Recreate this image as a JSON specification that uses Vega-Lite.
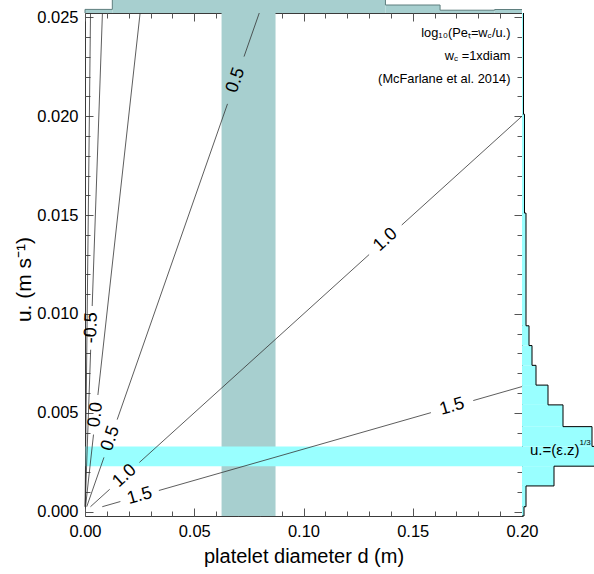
{
  "$schema": "https://vega.github.io/schema/vega-lite/v6.json",
  "width": 437,
  "height": 503,
  "autosize": {"type": "none"},
  "padding": {"left": 85, "top": 13, "right": 72, "bottom": 58},
  "config": {
    "font": "Liberation Sans",
    "view": {"stroke": "#3a3a3a", "strokeWidth": 1},
    "axis": {"grid": false, "domain": false, "tickColor": "#555", "tickWidth": 1, "labelColor": "#000", "titleColor": "#000", "labelFont": "Liberation Sans", "titleFont": "Liberation Sans", "titleFontWeight": "normal"}
  },
  "datasets": {
    "vband": [{"lo": 0.0625, "hi": 0.0872}],
    "hband": [{"lo": 0.0023, "hi": 0.0033}],
    "segs": [
      {"c": -1, "d1": 0.000025, "u1": 0.00025, "d2": 0.002522, "u2": 0.02522},
      {"c": -0.5, "d1": 0.000079, "u1": 0.00025, "d2": 0.00259, "u2": 0.00819},
      {"c": -0.5, "d1": 0.00329, "u1": 0.0104, "d2": 0.007975, "u2": 0.02522},
      {"c": 0, "d1": 0.00025, "u1": 0.00025, "d2": 0.0039, "u2": 0.0039},
      {"c": 0, "d1": 0.0059, "u1": 0.0059, "d2": 0.02522, "u2": 0.02522},
      {"c": 0.5, "d1": 0.000791, "u1": 0.00025, "d2": 0.00868, "u2": 0.002745},
      {"c": 0.5, "d1": 0.01472, "u1": 0.004655, "d2": 0.06522, "u2": 0.020624},
      {"c": 0.5, "d1": 0.07278, "u1": 0.023015, "d2": 0.07975, "u2": 0.02522},
      {"c": 1, "d1": 0.0025, "u1": 0.00025, "d2": 0.01131, "u2": 0.001131},
      {"c": 1, "d1": 0.02489, "u1": 0.002489, "d2": 0.13003, "u2": 0.013003},
      {"c": 1, "d1": 0.14497, "u1": 0.014497, "d2": 0.2, "u2": 0.02},
      {"c": 1.5, "d1": 0.0079, "u1": 0.00025, "d2": 0.01619, "u2": 0.000512},
      {"c": 1.5, "d1": 0.03381, "u1": 0.001069, "d2": 0.15831, "u2": 0.005006},
      {"c": 1.5, "d1": 0.17769, "u1": 0.005619, "d2": 0.2, "u2": 0.006325}
    ],
    "labs": [
      {"c": "-0.5", "d": 0.00294, "u": 0.0093},
      {"c": "0.0", "d": 0.0049, "u": 0.0049},
      {"c": "0.5", "d": 0.0117, "u": 0.0037},
      {"c": "0.5", "d": 0.069, "u": 0.02182},
      {"c": "1.0", "d": 0.0181, "u": 0.00181},
      {"c": "1.0", "d": 0.1375, "u": 0.01375},
      {"c": "1.5", "d": 0.025, "u": 0.00079},
      {"c": "1.5", "d": 0.168, "u": 0.00531}
    ],
    "notes": [
      {"k": "a1", "t": "log₁₀(Peₜ=w", "d": 0.1947, "u": 0.02421},
      {"k": "a2", "t": "c", "d": 0.1947, "u": 0.02421},
      {"k": "a3", "t": "/u.)", "d": 0.1947, "u": 0.02421},
      {"k": "b1", "t": "w", "d": 0.1947, "u": 0.02305},
      {"k": "b2", "t": "c", "d": 0.1947, "u": 0.02305},
      {"k": "b3", "t": " =1xdiam", "d": 0.1947, "u": 0.02305},
      {"k": "c1", "t": "(McFarlane et al. 2014)", "d": 0.1947, "u": 0.02188}
    ],
    "rh": [
      {"lo": -0.00022, "hi": 0.00025, "f": 2},
      {"lo": 0.00025, "hi": 0.0013, "f": 4},
      {"lo": 0.0013, "hi": 0.0023, "f": 32},
      {"lo": 0.0023, "hi": 0.0033, "f": 90},
      {"lo": 0.0033, "hi": 0.0043, "f": 70},
      {"lo": 0.0043, "hi": 0.0054, "f": 41},
      {"lo": 0.0054, "hi": 0.0064, "f": 26},
      {"lo": 0.0064, "hi": 0.0074, "f": 14},
      {"lo": 0.0074, "hi": 0.0084, "f": 10},
      {"lo": 0.0084, "hi": 0.0094, "f": 7},
      {"lo": 0.0094, "hi": 0.0151, "f": 4},
      {"lo": 0.0151, "hi": 0.0201, "f": 2.5},
      {"lo": 0.0201, "hi": 0.02522, "f": 1.5}
    ],
    "rho": [
      {"i": 0, "f": 0, "u": -0.00022},
      {"i": 1, "f": 2, "u": -0.00022},
      {"i": 2, "f": 2, "u": 0.00025},
      {"i": 3, "f": 4, "u": 0.00025},
      {"i": 4, "f": 4, "u": 0.0013},
      {"i": 5, "f": 32, "u": 0.0013},
      {"i": 6, "f": 32, "u": 0.0023},
      {"i": 7, "f": 90, "u": 0.0023},
      {"i": 8, "f": 90, "u": 0.0033},
      {"i": 9, "f": 70, "u": 0.0033},
      {"i": 10, "f": 70, "u": 0.0043},
      {"i": 11, "f": 41, "u": 0.0043},
      {"i": 12, "f": 41, "u": 0.0054},
      {"i": 13, "f": 26, "u": 0.0054},
      {"i": 14, "f": 26, "u": 0.0064},
      {"i": 15, "f": 14, "u": 0.0064},
      {"i": 16, "f": 14, "u": 0.0074},
      {"i": 17, "f": 10, "u": 0.0074},
      {"i": 18, "f": 10, "u": 0.0084},
      {"i": 19, "f": 7, "u": 0.0084},
      {"i": 20, "f": 7, "u": 0.0094},
      {"i": 21, "f": 4, "u": 0.0094},
      {"i": 22, "f": 4, "u": 0.0151},
      {"i": 23, "f": 2.5, "u": 0.0151},
      {"i": 24, "f": 2.5, "u": 0.0201},
      {"i": 25, "f": 1.5, "u": 0.0201},
      {"i": 26, "f": 1.5, "u": 0.02522}
    ],
    "rtxt": [
      {"k": "m", "t": "u.=(ε.z)", "f": 8, "u": 0.0031},
      {"k": "s", "t": "1/3", "f": 57.5, "u": 0.0031}
    ],
    "th": [
      {"lo": 0, "hi": 0.0125, "f": 3.6},
      {"lo": 0.0125, "hi": 0.1375, "f": 20},
      {"lo": 0.1375, "hi": 0.1625, "f": 8},
      {"lo": 0.1625, "hi": 0.1875, "f": 2.8},
      {"lo": 0.1875, "hi": 0.2, "f": 3.5}
    ],
    "tho": [
      {"i": 0, "d": 0, "f": 0},
      {"i": 1, "d": 0, "f": 3.6},
      {"i": 2, "d": 0.0125, "f": 3.6},
      {"i": 3, "d": 0.0125, "f": 20},
      {"i": 4, "d": 0.1375, "f": 20},
      {"i": 5, "d": 0.1375, "f": 8},
      {"i": 6, "d": 0.1625, "f": 8},
      {"i": 7, "d": 0.1625, "f": 2.8},
      {"i": 8, "d": 0.1875, "f": 2.8},
      {"i": 9, "d": 0.1875, "f": 3.5},
      {"i": 10, "d": 0.2, "f": 3.5}
    ],
    "origin": [{"d": 0, "u": 0}]
  },
  "resolve": {"scale": {"x": "independent", "y": "independent"}},
  "layer": [
    {
      "resolve": {"axis": {"x": "independent", "y": "independent"}},
      "layer": [
        {
          "data": {"name": "vband"},
          "mark": {"type": "rect", "color": "#a7cfcf"},
          "encoding": {
            "x": {"field": "lo", "type": "quantitative", "scale": {"domain": [0, 0.2], "nice": false, "zero": false}, "axis": null},
            "x2": {"field": "hi"}
          }
        },
        {
          "data": {"name": "hband"},
          "mark": {"type": "rect", "color": "#99ffff"},
          "encoding": {
            "y": {"field": "lo", "type": "quantitative", "scale": {"domain": [-0.00022, 0.02522], "nice": false, "zero": false}, "axis": null},
            "y2": {"field": "hi"}
          }
        },
        {
          "data": {"name": "segs"},
          "mark": {"type": "rule", "color": "#333", "strokeWidth": 0.8},
          "encoding": {
            "x": {"field": "d1", "type": "quantitative", "scale": {"domain": [0, 0.2], "nice": false, "zero": false}, "axis": null},
            "y": {"field": "u1", "type": "quantitative", "scale": {"domain": [-0.00022, 0.02522], "nice": false, "zero": false}, "axis": null},
            "x2": {"field": "d2"},
            "y2": {"field": "u2"}
          }
        },
        {
          "data": {"name": "labs"},
          "transform": [{"filter": "datum.c === '-0.5'"}],
          "mark": {"type": "text", "angle": 272, "fontSize": 18, "color": "#000", "align": "center", "baseline": "middle"},
          "encoding": {
            "x": {"field": "d", "type": "quantitative", "scale": {"domain": [0, 0.2], "nice": false, "zero": false}, "axis": null},
            "y": {"field": "u", "type": "quantitative", "scale": {"domain": [-0.00022, 0.02522], "nice": false, "zero": false}, "axis": null},
            "text": {"field": "c"}
          }
        },
        {
          "data": {"name": "labs"},
          "transform": [{"filter": "datum.c === '0.0'"}],
          "mark": {"type": "text", "angle": 276.3, "fontSize": 18, "color": "#000", "align": "center", "baseline": "middle"},
          "encoding": {
            "x": {"field": "d", "type": "quantitative", "scale": {"domain": [0, 0.2], "nice": false, "zero": false}, "axis": null},
            "y": {"field": "u", "type": "quantitative", "scale": {"domain": [-0.00022, 0.02522], "nice": false, "zero": false}, "axis": null},
            "text": {"field": "c"}
          }
        },
        {
          "data": {"name": "labs"},
          "transform": [{"filter": "datum.c === '0.5'"}],
          "mark": {"type": "text", "angle": 289.2, "fontSize": 18, "color": "#000", "align": "center", "baseline": "middle"},
          "encoding": {
            "x": {"field": "d", "type": "quantitative", "scale": {"domain": [0, 0.2], "nice": false, "zero": false}, "axis": null},
            "y": {"field": "u", "type": "quantitative", "scale": {"domain": [-0.00022, 0.02522], "nice": false, "zero": false}, "axis": null},
            "text": {"field": "c"}
          }
        },
        {
          "data": {"name": "labs"},
          "transform": [{"filter": "datum.c === '1.0'"}],
          "mark": {"type": "text", "angle": 317.8, "fontSize": 18, "color": "#000", "align": "center", "baseline": "middle"},
          "encoding": {
            "x": {"field": "d", "type": "quantitative", "scale": {"domain": [0, 0.2], "nice": false, "zero": false}, "axis": null},
            "y": {"field": "u", "type": "quantitative", "scale": {"domain": [-0.00022, 0.02522], "nice": false, "zero": false}, "axis": null},
            "text": {"field": "c"}
          }
        },
        {
          "data": {"name": "labs"},
          "transform": [{"filter": "datum.c === '1.5'"}],
          "mark": {"type": "text", "angle": 344, "fontSize": 18, "color": "#000", "align": "center", "baseline": "middle"},
          "encoding": {
            "x": {"field": "d", "type": "quantitative", "scale": {"domain": [0, 0.2], "nice": false, "zero": false}, "axis": null},
            "y": {"field": "u", "type": "quantitative", "scale": {"domain": [-0.00022, 0.02522], "nice": false, "zero": false}, "axis": null},
            "text": {"field": "c"}
          }
        },
        {
          "data": {"name": "notes"},
          "transform": [{"filter": "indexof(['a3','b3','c1'], datum.k) >= 0"}],
          "mark": {"type": "text", "fontSize": 12.8, "color": "#000", "align": "right", "baseline": "middle"},
          "encoding": {
            "x": {"field": "d", "type": "quantitative", "scale": {"domain": [0, 0.2], "nice": false, "zero": false}, "axis": null},
            "y": {"field": "u", "type": "quantitative", "scale": {"domain": [-0.00022, 0.02522], "nice": false, "zero": false}, "axis": null},
            "text": {"field": "t"}
          }
        },
        {
          "data": {"name": "notes"},
          "transform": [{"filter": "datum.k === 'a2'"}],
          "mark": {"type": "text", "fontSize": 8, "color": "#000", "align": "right", "baseline": "middle", "dx": -18.8, "dy": 3},
          "encoding": {
            "x": {"field": "d", "type": "quantitative", "scale": {"domain": [0, 0.2], "nice": false, "zero": false}, "axis": null},
            "y": {"field": "u", "type": "quantitative", "scale": {"domain": [-0.00022, 0.02522], "nice": false, "zero": false}, "axis": null},
            "text": {"field": "t"}
          }
        },
        {
          "data": {"name": "notes"},
          "transform": [{"filter": "datum.k === 'a1'"}],
          "mark": {"type": "text", "fontSize": 12.8, "color": "#000", "align": "right", "baseline": "middle", "dx": -22.8},
          "encoding": {
            "x": {"field": "d", "type": "quantitative", "scale": {"domain": [0, 0.2], "nice": false, "zero": false}, "axis": null},
            "y": {"field": "u", "type": "quantitative", "scale": {"domain": [-0.00022, 0.02522], "nice": false, "zero": false}, "axis": null},
            "text": {"field": "t"}
          }
        },
        {
          "data": {"name": "notes"},
          "transform": [{"filter": "datum.k === 'b2'"}],
          "mark": {"type": "text", "fontSize": 8, "color": "#000", "align": "right", "baseline": "middle", "dx": -52.3, "dy": 3},
          "encoding": {
            "x": {"field": "d", "type": "quantitative", "scale": {"domain": [0, 0.2], "nice": false, "zero": false}, "axis": null},
            "y": {"field": "u", "type": "quantitative", "scale": {"domain": [-0.00022, 0.02522], "nice": false, "zero": false}, "axis": null},
            "text": {"field": "t"}
          }
        },
        {
          "data": {"name": "notes"},
          "transform": [{"filter": "datum.k === 'b1'"}],
          "mark": {"type": "text", "fontSize": 12.8, "color": "#000", "align": "right", "baseline": "middle", "dx": -56.3},
          "encoding": {
            "x": {"field": "d", "type": "quantitative", "scale": {"domain": [0, 0.2], "nice": false, "zero": false}, "axis": null},
            "y": {"field": "u", "type": "quantitative", "scale": {"domain": [-0.00022, 0.02522], "nice": false, "zero": false}, "axis": null},
            "text": {"field": "t"}
          }
        },
        {
          "data": {"name": "origin"},
          "mark": {"type": "point", "opacity": 0},
          "encoding": {
            "x": {"field": "d", "type": "quantitative", "scale": {"domain": [0, 0.2], "nice": false, "zero": false},
              "axis": {"orient": "bottom", "values": [0, 0.05, 0.1, 0.15, 0.2], "format": ".2f", "tickSize": -8, "labelPadding": 15, "labelFontSize": 16.5, "labelFlush": false, "labelOverlap": false, "title": "platelet diameter d (m)", "titleFontSize": 20, "titlePadding": 7}},
            "y": {"field": "u", "type": "quantitative", "scale": {"domain": [-0.00022, 0.02522], "nice": false, "zero": false},
              "axis": {"orient": "left", "values": [0, 0.005, 0.01, 0.015, 0.02, 0.025], "format": ".3f", "tickSize": -8, "labelPadding": 15, "labelFontSize": 16.5, "labelFlush": false, "labelOverlap": false, "title": "u. (m s⁻¹)", "titleFontSize": 21, "titlePadding": 2, "titleY": 266}}
          }
        },
        {
          "data": {"name": "origin"},
          "mark": {"type": "point", "opacity": 0},
          "encoding": {
            "x": {"field": "d", "type": "quantitative", "scale": {"domain": [0, 0.2], "nice": false, "zero": false},
              "axis": {"orient": "bottom", "values": [0.01, 0.02, 0.03, 0.04, 0.06, 0.07, 0.08, 0.09, 0.11, 0.12, 0.13, 0.14, 0.16, 0.17, 0.18, 0.19], "tickSize": -5, "labels": false, "title": null}},
            "y": {"field": "u", "type": "quantitative", "scale": {"domain": [-0.00022, 0.02522], "nice": false, "zero": false},
              "axis": {"orient": "left", "values": [0.001, 0.002, 0.003, 0.004, 0.006, 0.007, 0.008, 0.009, 0.011, 0.012, 0.013, 0.014, 0.016, 0.017, 0.018, 0.019, 0.021, 0.022, 0.023, 0.024], "tickSize": -5, "labels": false, "title": null}}
          }
        },
        {
          "data": {"name": "origin"},
          "mark": {"type": "point", "opacity": 0},
          "encoding": {
            "x": {"field": "d", "type": "quantitative", "scale": {"domain": [0, 0.2], "nice": false, "zero": false},
              "axis": {"orient": "top", "values": [0, 0.05, 0.1, 0.15, 0.2], "tickSize": -8, "labels": false, "title": null}},
            "y": {"field": "u", "type": "quantitative", "scale": {"domain": [-0.00022, 0.02522], "nice": false, "zero": false},
              "axis": {"orient": "right", "values": [0, 0.005, 0.01, 0.015, 0.02, 0.025], "tickSize": -8, "labels": false, "title": null}}
          }
        },
        {
          "data": {"name": "origin"},
          "mark": {"type": "point", "opacity": 0},
          "encoding": {
            "x": {"field": "d", "type": "quantitative", "scale": {"domain": [0, 0.2], "nice": false, "zero": false},
              "axis": {"orient": "top", "values": [0.01, 0.02, 0.03, 0.04, 0.06, 0.07, 0.08, 0.09, 0.11, 0.12, 0.13, 0.14, 0.16, 0.17, 0.18, 0.19], "tickSize": -5, "labels": false, "title": null}},
            "y": {"field": "u", "type": "quantitative", "scale": {"domain": [-0.00022, 0.02522], "nice": false, "zero": false},
              "axis": {"orient": "right", "values": [0.001, 0.002, 0.003, 0.004, 0.006, 0.007, 0.008, 0.009, 0.011, 0.012, 0.013, 0.014, 0.016, 0.017, 0.018, 0.019, 0.021, 0.022, 0.023, 0.024], "tickSize": -5, "labels": false, "title": null}}
          }
        }
      ]
    },
    {
      "layer": [
        {
          "data": {"name": "rh"},
          "mark": {"type": "rect", "color": "#99ffff"},
          "encoding": {
            "x": {"field": "f", "type": "quantitative", "scale": {"domain": [0, 72], "range": [437, 509], "nice": false, "zero": false}, "axis": null},
            "x2": {"datum": 0},
            "y": {"field": "lo", "type": "quantitative", "scale": {"domain": [-0.00022, 0.02522], "nice": false, "zero": false}, "axis": null},
            "y2": {"field": "hi"}
          }
        },
        {
          "data": {"name": "rho"},
          "mark": {"type": "line", "color": "#000", "strokeWidth": 1},
          "encoding": {
            "x": {"field": "f", "type": "quantitative", "scale": {"domain": [0, 72], "range": [437, 509], "nice": false, "zero": false}, "axis": null},
            "y": {"field": "u", "type": "quantitative", "scale": {"domain": [-0.00022, 0.02522], "nice": false, "zero": false}, "axis": null},
            "order": {"field": "i", "type": "quantitative"}
          }
        },
        {
          "data": {"name": "rtxt"},
          "transform": [{"filter": "datum.k === 'm'"}],
          "mark": {"type": "text", "fontSize": 15, "color": "#000", "align": "left", "baseline": "middle"},
          "encoding": {
            "x": {"field": "f", "type": "quantitative", "scale": {"domain": [0, 72], "range": [437, 509], "nice": false, "zero": false}, "axis": null},
            "y": {"field": "u", "type": "quantitative", "scale": {"domain": [-0.00022, 0.02522], "nice": false, "zero": false}, "axis": null},
            "text": {"field": "t"}
          }
        },
        {
          "data": {"name": "rtxt"},
          "transform": [{"filter": "datum.k === 's'"}],
          "mark": {"type": "text", "fontSize": 8, "color": "#000", "align": "left", "baseline": "middle", "dy": -7},
          "encoding": {
            "x": {"field": "f", "type": "quantitative", "scale": {"domain": [0, 72], "range": [437, 509], "nice": false, "zero": false}, "axis": null},
            "y": {"field": "u", "type": "quantitative", "scale": {"domain": [-0.00022, 0.02522], "nice": false, "zero": false}, "axis": null},
            "text": {"field": "t"}
          }
        }
      ]
    },
    {
      "layer": [
        {
          "data": {"name": "th"},
          "mark": {"type": "rect", "color": "#a7cfcf"},
          "encoding": {
            "x": {"field": "lo", "type": "quantitative", "scale": {"domain": [0, 0.2], "nice": false, "zero": false}, "axis": null},
            "x2": {"field": "hi"},
            "y": {"field": "f", "type": "quantitative", "scale": {"domain": [0, 20], "range": [0, -20], "nice": false, "zero": false}, "axis": null},
            "y2": {"datum": 0}
          }
        },
        {
          "data": {"name": "tho"},
          "mark": {"type": "line", "color": "#5f7f7f", "strokeWidth": 1},
          "encoding": {
            "x": {"field": "d", "type": "quantitative", "scale": {"domain": [0, 0.2], "nice": false, "zero": false}, "axis": null},
            "y": {"field": "f", "type": "quantitative", "scale": {"domain": [0, 20], "range": [0, -20], "nice": false, "zero": false}, "axis": null},
            "order": {"field": "i", "type": "quantitative"}
          }
        }
      ]
    }
  ]
}
